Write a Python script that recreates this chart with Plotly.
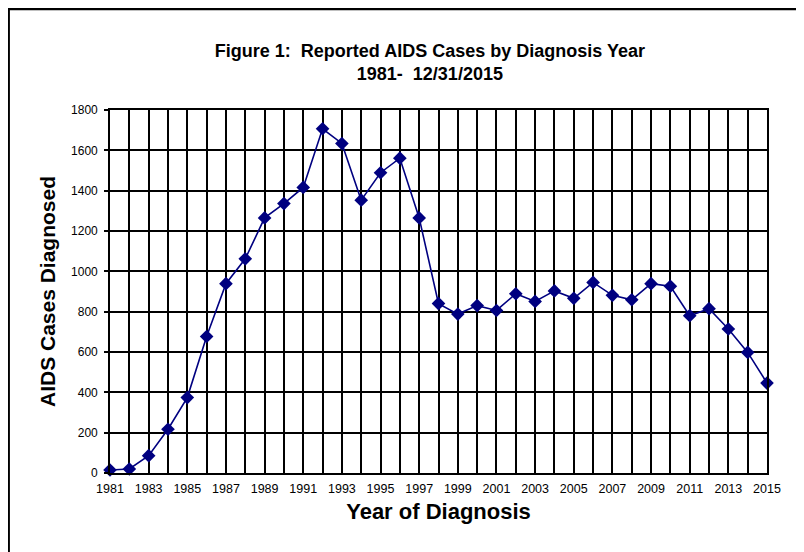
import plotly.graph_objects as go

years = list(range(1981, 2016))
cases = [15, 20, 86, 217, 374, 677, 939, 1062, 1265, 1336, 1416, 1707, 1634, 1353,
         1489, 1561, 1265, 840, 788, 830, 806, 889, 851, 903, 866, 945, 881, 859,
         939, 926, 780, 815, 714, 598, 446]
x_tick_vals = years
x_tick_text = [str(y) if (y - 1981) % 2 == 0 else "" for y in years]
y_tick_vals = [0, 200, 400, 600, 800, 1000, 1200, 1400, 1600, 1800]

fig = go.Figure()
fig.add_trace(go.Scatter(
    x=years, y=cases, mode="lines+markers",
    line=dict(color="#000080", width=1.6),
    marker=dict(symbol="diamond", size=10.5, color="#000080"),
    cliponaxis=False, showlegend=False,
))

font = "Liberation Sans, Arial, sans-serif"
fig.update_layout(
    width=796, height=544,
    margin=dict(l=102, r=37, t=102, b=79),
    paper_bgcolor="white", plot_bgcolor="white",
    font=dict(family=font, color="black", size=12),
    title=dict(
        text="<b>Figure 1:  Reported AIDS Cases by Diagnosis Year<br>1981-  12/31/2015</b>",
        x=0.530, xanchor="center", y=0.91, yanchor="middle",
        font=dict(family=font, size=18, color="black"),
    ),
    xaxis=dict(
        range=[1981, 2015], tickmode="array", tickvals=x_tick_vals, ticktext=x_tick_text,
        showgrid=True, gridcolor="black", gridwidth=1.6,
        showline=True, linecolor="black", linewidth=1.6, mirror=True,
        ticks="", tickfont=dict(size=12.5), zeroline=False, ticklabelstandoff=3,
        title=dict(text="<b>Year of Diagnosis</b>", font=dict(size=22), standoff=9),
    ),
    yaxis=dict(
        range=[0, 1800], tickmode="array", tickvals=y_tick_vals,
        showgrid=True, gridcolor="black", gridwidth=1.6,
        showline=True, linecolor="black", linewidth=1.6, mirror=True,
        ticks="outside", ticklen=4, tickcolor="black", tickwidth=1.5,
        tickfont=dict(size=12), zeroline=False, ticklabelstandoff=4,
        title=dict(text="<b>AIDS Cases Diagnosed</b>", font=dict(size=21), standoff=10),
    ),
    shapes=[dict(type="rect", xref="paper", yref="paper",
                 x0=-102 / 657 + 0.001, x1=1.2, y0=-0.3, y1=(363 + 101) / 363,
                 line=dict(color="black", width=2.5))],
)
fig.write_html("out.html")
